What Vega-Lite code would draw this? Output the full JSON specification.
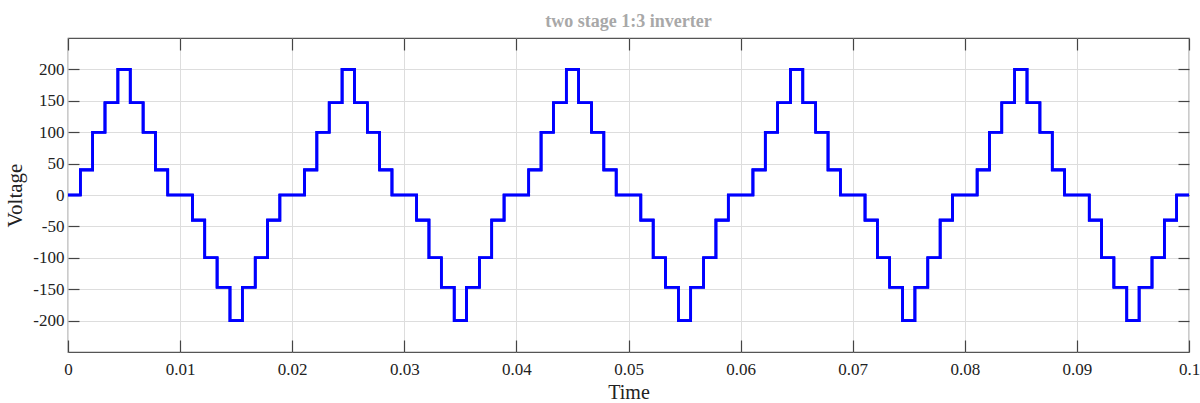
{
  "$schema": "https://vega.github.io/schema/vega-lite/v6.json",
  "width": 1121,
  "height": 314,
  "autosize": "none",
  "padding": {"left": 68, "top": 38, "right": 11, "bottom": 51},
  "background": "white",
  "config": {
    "view": {"stroke": "#555555", "strokeWidth": 1.2},
    "font": "Liberation Serif"
  },
  "title": {
    "text": "two stage 1:3 inverter",
    "font": "Liberation Serif",
    "fontSize": 18,
    "fontWeight": "bold",
    "color": "#a8a8a8",
    "offset": 6,
    "anchor": "middle"
  },
  "data": {
    "values": [
      {"t": 0, "v": 0}, {"t": 0.0011, "v": 40}, {"t": 0.0022, "v": 100}, {"t": 0.0033, "v": 147}, {"t": 0.00445, "v": 200},
      {"t": 0.00555, "v": 147}, {"t": 0.0067, "v": 100}, {"t": 0.0078, "v": 40}, {"t": 0.0089, "v": 0},
      {"t": 0.0111, "v": -40}, {"t": 0.0122, "v": -100}, {"t": 0.0133, "v": -147}, {"t": 0.01445, "v": -200},
      {"t": 0.01555, "v": -147}, {"t": 0.0167, "v": -100}, {"t": 0.0178, "v": -40}, {"t": 0.0189, "v": 0},

      {"t": 0.0211, "v": 40}, {"t": 0.0222, "v": 100}, {"t": 0.0233, "v": 147}, {"t": 0.02445, "v": 200},
      {"t": 0.02555, "v": 147}, {"t": 0.0267, "v": 100}, {"t": 0.0278, "v": 40}, {"t": 0.0289, "v": 0},
      {"t": 0.0311, "v": -40}, {"t": 0.0322, "v": -100}, {"t": 0.0333, "v": -147}, {"t": 0.03445, "v": -200},
      {"t": 0.03555, "v": -147}, {"t": 0.0367, "v": -100}, {"t": 0.0378, "v": -40}, {"t": 0.0389, "v": 0},

      {"t": 0.0411, "v": 40}, {"t": 0.0422, "v": 100}, {"t": 0.0433, "v": 147}, {"t": 0.04445, "v": 200},
      {"t": 0.04555, "v": 147}, {"t": 0.0467, "v": 100}, {"t": 0.0478, "v": 40}, {"t": 0.0489, "v": 0},
      {"t": 0.0511, "v": -40}, {"t": 0.0522, "v": -100}, {"t": 0.0533, "v": -147}, {"t": 0.05445, "v": -200},
      {"t": 0.05555, "v": -147}, {"t": 0.0567, "v": -100}, {"t": 0.0578, "v": -40}, {"t": 0.0589, "v": 0},

      {"t": 0.0611, "v": 40}, {"t": 0.0622, "v": 100}, {"t": 0.0633, "v": 147}, {"t": 0.06445, "v": 200},
      {"t": 0.06555, "v": 147}, {"t": 0.0667, "v": 100}, {"t": 0.0678, "v": 40}, {"t": 0.0689, "v": 0},
      {"t": 0.0711, "v": -40}, {"t": 0.0722, "v": -100}, {"t": 0.0733, "v": -147}, {"t": 0.07445, "v": -200},
      {"t": 0.07555, "v": -147}, {"t": 0.0767, "v": -100}, {"t": 0.0778, "v": -40}, {"t": 0.0789, "v": 0},

      {"t": 0.0811, "v": 40}, {"t": 0.0822, "v": 100}, {"t": 0.0833, "v": 147}, {"t": 0.08445, "v": 200},
      {"t": 0.08555, "v": 147}, {"t": 0.0867, "v": 100}, {"t": 0.0878, "v": 40}, {"t": 0.0889, "v": 0},
      {"t": 0.0911, "v": -40}, {"t": 0.0922, "v": -100}, {"t": 0.0933, "v": -147}, {"t": 0.09445, "v": -200},
      {"t": 0.09555, "v": -147}, {"t": 0.0967, "v": -100}, {"t": 0.0978, "v": -40}, {"t": 0.0989, "v": 0},
      {"t": 0.1, "v": 0}
    ]
  },
  "resolve": {"axis": {"x": "independent", "y": "independent"}},
  "layer": [
    {
      "mark": {"type": "line", "interpolate": "step-after", "color": "#0000ff", "strokeWidth": 2.6, "clip": true},
      "encoding": {
        "x": {
          "field": "t", "type": "quantitative",
          "scale": {"domain": [0, 0.1], "nice": false, "zero": false},
          "axis": {
            "orient": "bottom",
            "title": "Time", "titleFont": "Liberation Serif", "titleFontSize": 20, "titleFontWeight": "normal",
            "titleColor": "#222222", "titlePadding": 5,
            "values": [0, 0.01, 0.02, 0.03, 0.04, 0.05, 0.06, 0.07, 0.08, 0.09, 0.1],
            "format": "~g",
            "labelFont": "Liberation Serif", "labelFontSize": 17, "labelColor": "#222222", "labelPadding": 9,
            "labelFlush": false,
            "ticks": false,
            "domain": false,
            "grid": true, "gridColor": "#dddddd", "gridWidth": 1
          }
        },
        "y": {
          "field": "v", "type": "quantitative",
          "scale": {"domain": [-250, 250], "nice": false},
          "axis": {
            "orient": "left",
            "title": "Voltage", "titleFont": "Liberation Serif", "titleFontSize": 21, "titleFontWeight": "normal",
            "titleColor": "#222222", "titlePadding": 7,
            "values": [200, 150, 100, 50, 0, -50, -100, -150, -200],
            "labelExpr": "'' + datum.value",
            "labelFont": "Liberation Serif", "labelFontSize": 17, "labelColor": "#222222", "labelPadding": 4,
            "ticks": false,
            "domain": false,
            "grid": true, "gridColor": "#dddddd", "gridWidth": 1
          }
        }
      }
    },
    {
      "mark": {"type": "line", "interpolate": "step-after", "color": "#0000ff", "strokeWidth": 2.6, "clip": true},
      "encoding": {
        "x": {
          "field": "t", "type": "quantitative",
          "scale": {"domain": [0, 0.1], "nice": false, "zero": false},
          "axis": {
            "orient": "top", "title": null, "labels": false, "domain": false, "grid": false,
            "values": [0, 0.01, 0.02, 0.03, 0.04, 0.05, 0.06, 0.07, 0.08, 0.09, 0.1],
            "offset": -12, "tickSize": 12, "tickColor": "#444444", "tickWidth": 1.2
          }
        },
        "y": {
          "field": "v", "type": "quantitative",
          "scale": {"domain": [-250, 250], "nice": false},
          "axis": {
            "orient": "right", "title": null, "labels": false, "domain": false, "grid": false,
            "values": [200, 150, 100, 50, 0, -50, -100, -150, -200],
            "offset": -11, "tickSize": 11, "tickColor": "#444444", "tickWidth": 1.2
          }
        }
      }
    },
    {
      "mark": {"type": "line", "interpolate": "step-after", "color": "#0000ff", "strokeWidth": 2.6, "clip": true},
      "encoding": {
        "x": {
          "field": "t", "type": "quantitative",
          "scale": {"domain": [0, 0.1], "nice": false, "zero": false},
          "axis": {
            "orient": "bottom", "title": null, "labels": false, "domain": false, "grid": false,
            "values": [0, 0.01, 0.02, 0.03, 0.04, 0.05, 0.06, 0.07, 0.08, 0.09, 0.1],
            "offset": -12, "tickSize": 12, "tickColor": "#444444", "tickWidth": 1.2
          }
        },
        "y": {
          "field": "v", "type": "quantitative",
          "scale": {"domain": [-250, 250], "nice": false},
          "axis": {
            "orient": "left", "title": null, "labels": false, "domain": false, "grid": false,
            "values": [200, 150, 100, 50, 0, -50, -100, -150, -200],
            "offset": -11, "tickSize": 11, "tickColor": "#444444", "tickWidth": 1.2
          }
        }
      }
    }
  ]
}
